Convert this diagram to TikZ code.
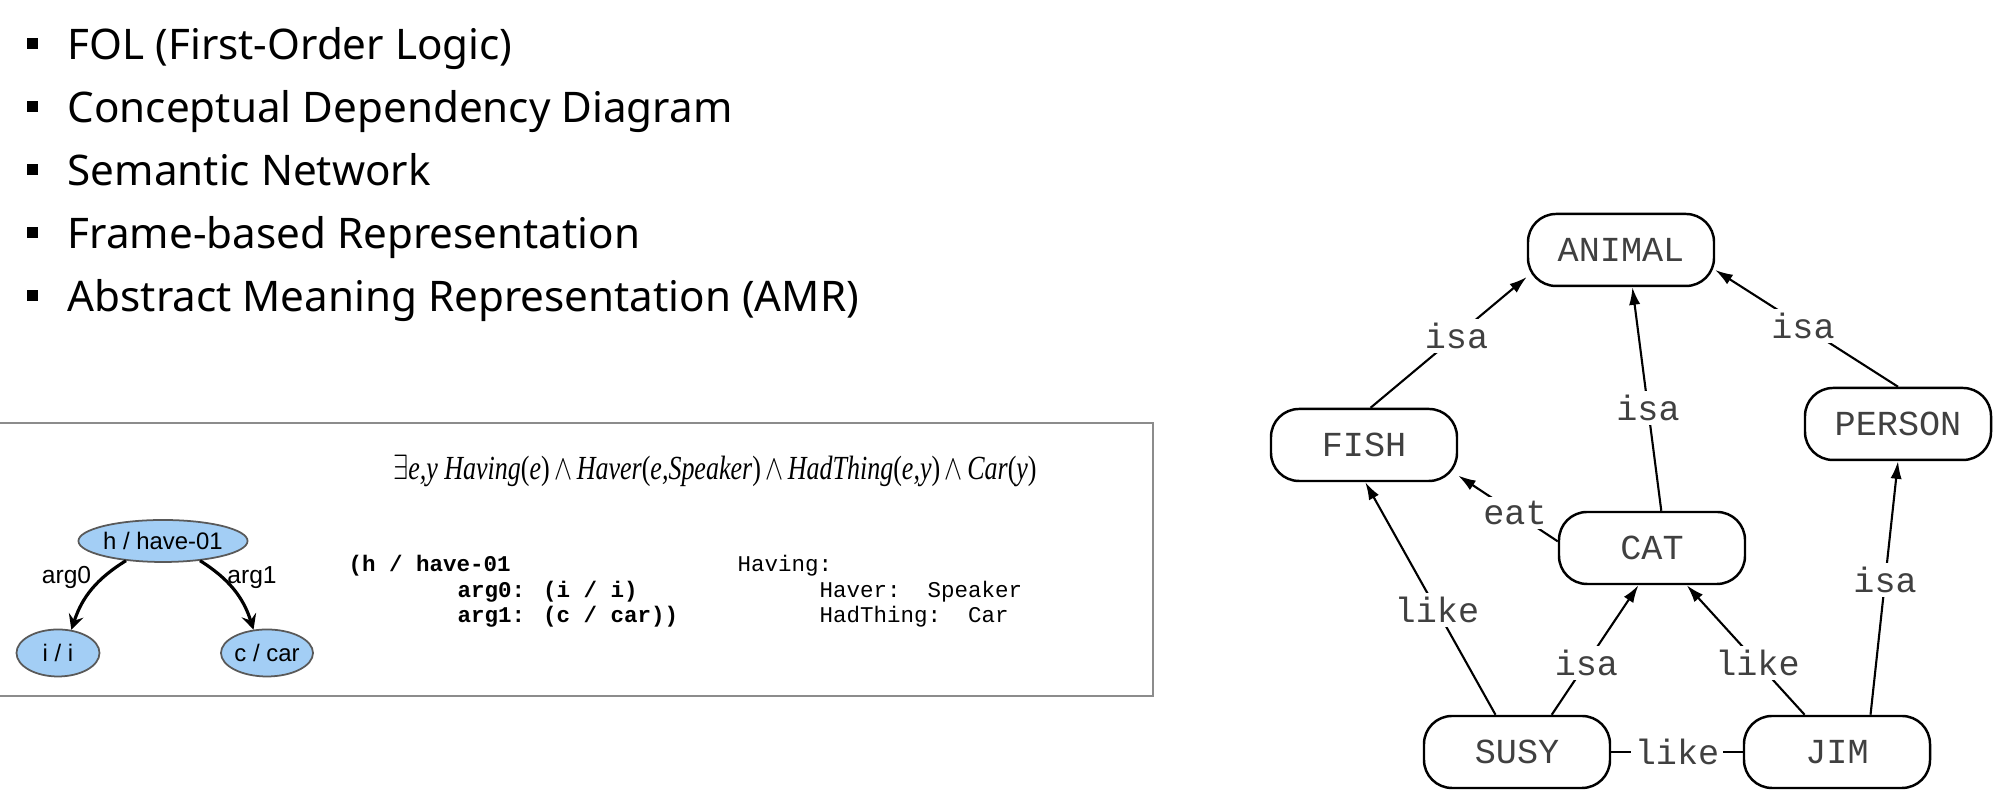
\documentclass[tikz,border=0pt]{standalone}
\usepackage{graphicx}
\usepackage{fontspec}
\setmainfont{Liberation Serif}
\newfontfamily\listfont{Noto Sans}
\newfontfamily\netfont{Liberation Mono}
\newfontfamily\amrfont{Liberation Sans}
\usetikzlibrary{arrows.meta,shapes.geometric}
\definecolor{amrblue}{RGB}{163,206,245}

\begin{document}
\begin{tikzpicture}[x=1cm,y=1cm,>=stealth,
  listtext/.style={anchor=base west, inner sep=0pt, font=\listfont\fontsize{12}{14}\selectfont},
  sq/.style={fill, inner sep=0pt, minimum size=0.11cm},
  boxline/.style={draw=black!45, line width=0.8pt},
  amr/.style={ellipse, draw=black!65, fill=amrblue, line width=0.5pt, inner sep=0pt, font=\amrfont\fontsize{6.8}{8}\selectfont},
  arglabel/.style={font=\amrfont\fontsize{7}{8}\selectfont, inner sep=1pt},
  arg/.style={line width=0.9pt, ->},
  code/.style={anchor=base west, inner sep=0pt, font=\netfont\bfseries\fontsize{6.4}{8}\selectfont},
  plain/.style={anchor=base west, inner sep=0pt, font=\netfont\fontsize{6.4}{8}\selectfont},
  concept/.style={draw, rounded corners=0.28cm, line width=0.7pt, minimum width=1.86cm, minimum height=0.72cm, inner sep=0pt, font=\netfont\fontsize{10}{12}\selectfont, text=black!75},
  rel/.style={fill=white, inner sep=1.2pt, font=\netfont\fontsize{10}{12}\selectfont, text=black!75},
  link/.style={line width=0.6pt, -{Latex[length=5pt,width=3.2pt]}}]
  \useasboundingbox (0,0) rectangle (20,7.95);

  % list of representations
  \foreach \txt [count=\i] in {FOL (First-Order Logic), Conceptual Dependency Diagram, Semantic Network, Frame-based Representation, Abstract Meaning Representation (AMR)}{
    \node[listtext] (item\i) at (0.67,7.98-0.63*\i) {\txt};
    \node[sq] (dot\i) at (0.32,8.145-0.63*\i) {};
  }

  % FOL / AMR panel
  \draw[boxline] (-0.05,0.99) rectangle (11.53,3.72);
  \node (fol) at (7.15,3.24) {\scalebox{0.77}[1]{\fontsize{9.6}{12}\selectfont $\exists$\textit{e,y Having}(\textit{e})$\,\wedge\,$\textit{Haver}(\textit{e,Speaker})$\,\wedge\,$\textit{HadThing}(\textit{e,y})$\,\wedge\,$\textit{Car}(\textit{y})}};

  \node[amr, minimum width=1.41cm, minimum height=0.42cm] (have) at (1.63,2.54) {h / have-01};
  \node[amr, minimum width=0.83cm, minimum height=0.47cm] (i) at (0.58,1.42) {i / i};
  \node[amr, minimum width=0.89cm, minimum height=0.47cm] (car) at (2.67,1.42) {c / car};
  \draw[arg] (have.208) to[bend right=20] node[arglabel, pos=0.3, left=2pt] {arg0} (i.60);
  \draw[arg] (have.-28) to[bend left=20] node[arglabel, pos=0.3, right] {arg1} (car.120);

  \node[code] (c1) at (3.48,2.23) {(h / have-01};
  \node[code] (c2) at (4.57,1.97) {arg0: (i / i)};
  \node[code] (c3) at (4.57,1.72) {arg1: (c / car))};
  \node[plain] (f1) at (7.37,2.23) {Having:};
  \node[plain] (f2) at (8.19,1.97) {Haver:\ \ Speaker};
  \node[plain] (f3) at (8.19,1.72) {HadThing:\ \ Car};

  % semantic network
  \node[concept] (animal) at (16.21,5.45) {ANIMAL};
  \node[concept] (fish) at (13.64,3.50) {FISH};
  \node[concept] (person) at (18.98,3.71) {PERSON};
  \node[concept] (cat) at (16.52,2.47) {CAT};
  \node[concept] (susy) at (15.17,0.43) {SUSY};
  \node[concept] (jim) at (18.37,0.43) {JIM};

  \draw[link] (fish.80) -- node[rel, pos=0.55] {isa} (animal.196);
  \draw[link] (cat.76) -- node[rel, pos=0.46] {isa} (animal.-73);
  \draw[link] (person.north) -- node[rel, pos=0.52] {isa} (animal.-12);
  \draw[link] (cat.176) -- node[rel, pos=0.43] {eat} (fish.-18);
  \draw[link] (susy.120) -- node[rel, pos=0.45] {like} (fish.-88);
  \draw[link] (susy.47) -- node[rel, pos=0.40] {isa} (cat.250);
  \draw[link] (jim.131) -- node[rel, pos=0.40] {like} (cat.-47);
  \draw[link] (jim.48) -- node[rel, pos=0.53] {isa} (person.south);
  \draw[line width=0.6pt] (susy) -- node[rel] {like} (jim);
\end{tikzpicture}
\end{document}
